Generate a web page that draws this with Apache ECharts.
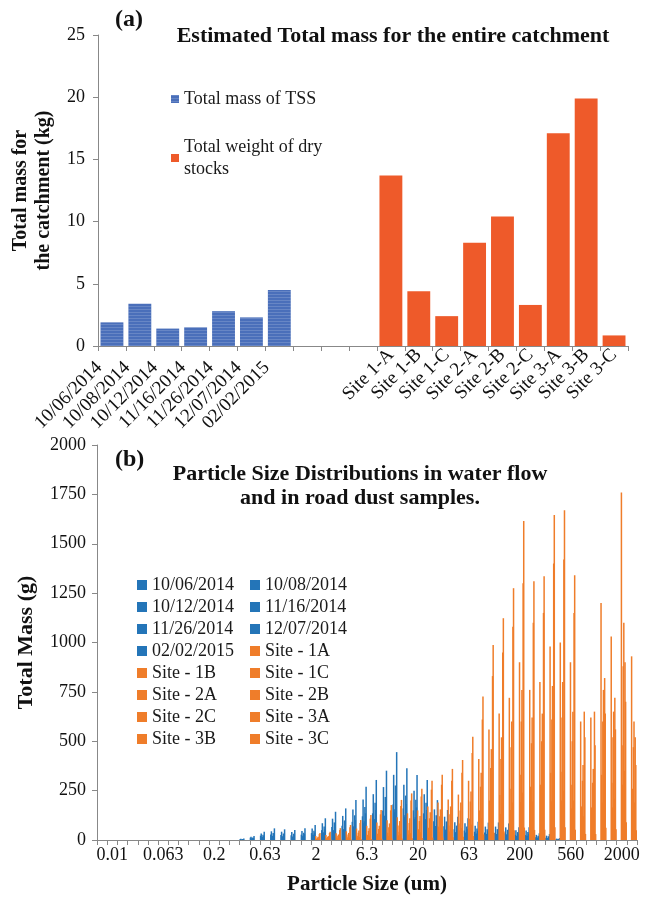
<!DOCTYPE html>
<html><head><meta charset="utf-8">
<script src="https://cdn.jsdelivr.net/npm/echarts@6/dist/echarts.min.js"></script>
<style>html,body{margin:0;padding:0;background:#fff}#c{width:660px;height:899px}</style>
</head><body><div id="c"></div>
<script>
// ---------- Panel (a) data ----------
const sampleDates = ['10/06/2014','10/08/2014','10/12/2014','11/16/2014','11/26/2014','12/07/2014','02/02/2015'];
const siteNames = ['Site 1-A','Site 1-B','Site 1-C','Site 2-A','Site 2-B','Site 2-C','Site 3-A','Site 3-B','Site 3-C'];
const tssMass = [1.9, 3.4, 1.4, 1.5, 2.8, 2.3, 4.5];
const dryStockMass = [13.7, 4.4, 2.4, 8.3, 10.4, 3.3, 17.1, 19.9, 0.85];
const massTicks = [0, 5, 10, 15, 20, 25];

// ---------- Panel (b) data ----------
const sizeCats = ['0.008','0.01','0.02','0.03','0.04','0.05','0.063','0.08','0.1','0.13','0.16','0.2','0.25','0.32','0.4','0.5','0.63','0.8','1','1.3','1.6','2','2.5','3.2','4','5','6.3','8','10','13','16','20','25','32','40','50','63','80','100','125','160','200','250','315','400','500','560','710','900','1120','1400','2000','2500'];
const sizeLabels = ['0.01','0.063','0.2','0.63','2','6.3','20','63','200','560','2000'];

const psd_10_06_2014 = [0,0,0,0,0,0,0,0,0,0,0,0,0,0, 5,12,22,28,25,24,27,35,50,66,72,92,120,135,150,180,160,150,135,95,70,55,48,42,38,36,34,26,25,14,12,4, 0,0,0,0,0,0,0];
const psd_10_08_2014 = [0,0,0,0,0,0,0,0,0,0,0,0,0,0, 6,16,33,44,42,40,45,58,85,108,122,155,205,232,268,330,280,250,232,155,118,90,85,72,68,68,64,50,48,26,22,7, 0,0,0,0,0,0,0];
const psd_10_12_2014 = [0,0,0,0,0,0,0,0,0,0,0,0,0,0, 3,8,14,18,17,16,19,25,36,46,52,66,86,98,112,140,118,106,98,66,50,38,36,30,28,29,27,20,20,11,10,3, 0,0,0,0,0,0,0];
const psd_11_16_2014 = [0,0,0,0,0,0,0,0,0,0,0,0,0,0, 3,9,15,21,19,18,21,27,39,50,56,71,95,106,123,156,127,115,106,71,53,41,39,33,31,31,29,22,22,12,10,4, 0,0,0,0,0,0,0];
const psd_11_26_2014 = [0,0,0,0,0,0,0,0,0,0,0,0,0,0, 5,13,26,36,33,32,37,47,68,89,99,125,167,188,218,276,225,204,188,125,94,73,68,58,55,55,52,40,40,21,19,6, 0,0,0,0,0,0,0];
const psd_12_07_2014 = [0,0,0,0,0,0,0,0,0,0,0,0,0,0, 4,10,21,30,27,26,30,38,55,72,80,101,135,152,176,222,182,165,152,101,76,59,55,47,44,45,42,32,32,17,15,5, 0,0,0,0,0,0,0];
const psd_02_02_2015 = [0,0,0,0,0,0,0,0,0,0,0,0,0,0, 8,20,42,59,54,51,59,76,110,143,160,202,270,304,351,445,363,329,304,202,152,118,110,93,88,89,84,64,64,34,30,10, 0,0,0,0,0,0,0];

const psd_site_1A = [0,0,0,0,0,0,0,0,0,0,0,0,0,0,0,0,0,0,0,0,0, 20,25,34,44,58,72,88,100,115,135,150,170,190,205,230,300,410,560,640,720,900,760,800,980,1000,900,600,620,1200,1030,1760,930];
const psd_site_1B = [0,0,0,0,0,0,0,0,0,0,0,0,0,0,0,0,0,0,0,0,0, 7,9,13,16,21,26,32,37,42,49,54,62,68,74,84,108,150,200,228,260,330,270,280,340,345,280,170,165,330,290,480,260];
const psd_site_1C = [0,0,0,0,0,0,0,0,0,0,0,0,0,0,0,0,0,0,0,0,0, 4,5,7,9,12,15,18,21,24,28,31,36,40,43,49,62,87,118,132,152,192,156,160,196,200,160,95,92,190,165,280,150];
const psd_site_2A = [0,0,0,0,0,0,0,0,0,0,0,0,0,0,0,0,0,0,0,0,0, 12,15,22,28,37,46,56,65,74,86,96,110,120,130,150,195,270,365,410,470,600,490,500,610,620,500,300,290,600,520,880,470];
const psd_site_2B = [0,0,0,0,0,0,0,0,0,0,0,0,0,0,0,0,0,0,0,0,0, 16,20,28,36,48,60,72,84,96,110,122,140,155,170,190,245,340,460,520,600,760,620,640,780,800,650,380,360,760,650,1100,600];
const psd_site_2C = [0,0,0,0,0,0,0,0,0,0,0,0,0,0,0,0,0,0,0,0,0, 5,6,9,12,15,19,23,27,31,35,39,45,50,54,61,78,110,147,165,190,240,195,200,245,250,200,120,115,240,210,350,190];
const psd_site_3A = [0,0,0,0,0,0,0,0,0,0,0,0,0,0,0,0,0,0,0,0,0, 30,36,50,65,86,108,130,150,172,200,220,255,280,300,340,440,610,830,950,1080,1300,1100,1150,1400,1420,1150,650,650,820,720,900,520];
const psd_site_3B = [0,0,0,0,0,0,0,0,0,0,0,0,0,0,0,0,0,0,0,0,0, 35,42,60,76,101,127,152,177,203,236,260,300,330,360,405,523,726,987,1123,1275,1615,1310,1335,1645,1670,1340,520,480,640,560,700,380];
const psd_site_3C = [0,0,0,0,0,0,0,0,0,0,0,0,0,0,0,0,0,0,0,0,0, 1,2,3,3,4,5,6,7,8,9,10,12,13,14,16,20,28,38,43,50,63,51,52,64,65,52,31,30,62,54,90,50];

const psdSeries = [
  ['10/06/2014', psd_10_06_2014, 'b'], ['10/08/2014', psd_10_08_2014, 'b'],
  ['10/12/2014', psd_10_12_2014, 'b'], ['11/16/2014', psd_11_16_2014, 'b'],
  ['11/26/2014', psd_11_26_2014, 'b'], ['12/07/2014', psd_12_07_2014, 'b'],
  ['02/02/2015', psd_02_02_2015, 'b'],
  ['Site - 1A', psd_site_1A, 'o'], ['Site - 1B', psd_site_1B, 'o'], ['Site - 1C', psd_site_1C, 'o'],
  ['Site - 2A', psd_site_2A, 'o'], ['Site - 2B', psd_site_2B, 'o'], ['Site - 2C', psd_site_2C, 'o'],
  ['Site - 3A', psd_site_3A, 'o'], ['Site - 3B', psd_site_3B, 'o'], ['Site - 3C', psd_site_3C, 'o']
];

// ---------- build ----------
const SERIF = '"Liberation Serif", "Times New Roman", serif';
const gapCats = [' ', '  ', '   '];
const massCats = sampleDates.concat(gapCats, siteNames);
const tssData = massCats.map((c, i) => i < tssMass.length ? tssMass[i] : null);
const dryData = massCats.map((c, i) => {
  const k = siteNames.indexOf(c); return k >= 0 ? dryStockMass[k] : null;
});
const BLUE_B = '#2475b8', ORANGE_B = '#ef7d2a';
const axisGrey = '#888888';

const chart = echarts.init(document.getElementById('c'), null, {renderer: 'canvas'});
const bSeries = psdSeries.map(([name, data, kind]) => ({
  type: 'bar', name, data, xAxisIndex: 1, yAxisIndex: 1,
  barWidth: 1.5, barGap: '-60%',
  itemStyle: {color: kind === 'b' ? BLUE_B : ORANGE_B}
}));

const legendText = {fontFamily: SERIF, fontSize: 18, color: '#1a1a1a'};
chart.setOption({
  animation: false,
  backgroundColor: '#fff',
  title: [
    {text: '(a)', left: 110, top: 3, textStyle: {fontFamily: SERIF, fontWeight: 'bold', fontSize: 24, color: '#111'}},
    {text: 'Estimated Total mass for the entire catchment', left: 388, top: 20, textAlign: 'center',
     textStyle: {fontFamily: SERIF, fontWeight: 'bold', fontSize: 22, color: '#111'}},
    {text: '(b)', left: 110, top: 443, textStyle: {fontFamily: SERIF, fontWeight: 'bold', fontSize: 24, color: '#111'}},
    {text: 'Particle Size Distributions in water flow\nand in road dust samples.', left: 355, top: 457, textAlign: 'center',
     textStyle: {fontFamily: SERIF, fontWeight: 'bold', fontSize: 22, lineHeight: 24, color: '#111'}}
  ],
  legend: [
    {data: ['Total mass of TSS', 'Total weight of dry stocks'], orient: 'vertical', left: 166, top: 83,
     itemWidth: 8, itemHeight: 8, itemGap: 26, icon: 'rect', textStyle: Object.assign({lineHeight: 22}, legendText),
     formatter: n => n === 'Total weight of dry stocks' ? 'Total weight of dry\nstocks' : n},
    {data: ['10/06/2014','10/12/2014','11/26/2014','02/02/2015','Site - 1B','Site - 2A','Site - 2C','Site - 3B'],
     orient: 'vertical', left: 132, top: 571, itemWidth: 10, itemHeight: 10, itemGap: 4, icon: 'rect', textStyle: legendText},
    {data: ['10/08/2014','11/16/2014','12/07/2014','Site - 1A','Site - 1C','Site - 2B','Site - 3A','Site - 3C'],
     orient: 'vertical', left: 245, top: 571, itemWidth: 10, itemHeight: 10, itemGap: 4, icon: 'rect', textStyle: legendText}
  ],
  grid: [
    {left: 98, right: 32, top: 35, height: 311},
    {left: 97, right: 23, top: 445, height: 395}
  ],
  xAxis: [
    {type: 'category', gridIndex: 0, data: massCats,
     axisLine: {lineStyle: {color: axisGrey}}, axisTick: {show: true, interval: 0, length: 5, lineStyle: {color: axisGrey}},
     axisLabel: {interval: 0, rotate: 45, fontFamily: SERIF, fontSize: 19, color: '#111', margin: 6,
       formatter: v => sampleDates.indexOf(v) >= 0 ? '{d|' + v + '}' : '{s|' + v + '}',
       rich: {d: {fontFamily: SERIF, fontSize: 19, color: '#111', padding: [0, 18, 0, 0]},
              s: {fontFamily: SERIF, fontSize: 19, color: '#111'}}}},
    {type: 'category', gridIndex: 1, data: sizeCats,
     name: 'Particle Size (um)', nameLocation: 'middle', nameGap: 34,
     nameTextStyle: {fontFamily: SERIF, fontWeight: 'bold', fontSize: 21, color: '#111'},
     axisLine: {lineStyle: {color: axisGrey}}, axisTick: {show: true, interval: 0, length: 5, lineStyle: {color: axisGrey}},
     axisLabel: {interval: (i, v) => sizeLabels.indexOf(v) >= 0, fontFamily: SERIF, fontSize: 18, color: '#111', margin: 6}}
  ],
  yAxis: [
    {type: 'value', gridIndex: 0, min: massTicks[0], max: massTicks[massTicks.length - 1], interval: 5,
     name: 'Total mass for\nthe catchment (kg)', nameLocation: 'middle', nameGap: 43, nameRotate: 90,
     nameTextStyle: {fontFamily: SERIF, fontWeight: 'bold', fontSize: 20, lineHeight: 23, color: '#111'},
     axisLine: {show: true, lineStyle: {color: axisGrey}}, axisTick: {show: true, length: 5, lineStyle: {color: axisGrey}},
     splitLine: {show: false}, axisLabel: {fontFamily: SERIF, fontSize: 18, color: '#111', margin: 13}},
    {type: 'value', gridIndex: 1, min: 0, max: 2000, interval: 250,
     name: 'Total Mass (g)', nameLocation: 'middle', nameGap: 60, nameRotate: 90,
     nameTextStyle: {fontFamily: SERIF, fontWeight: 'bold', fontSize: 22, color: '#111'},
     axisLine: {show: true, lineStyle: {color: axisGrey}}, axisTick: {show: true, length: 5, lineStyle: {color: axisGrey}},
     splitLine: {show: false}, axisLabel: {fontFamily: SERIF, fontSize: 18, color: '#111', margin: 11, formatter: v => String(v)}}
  ],
  series: [
    {type: 'bar', name: 'Total mass of TSS', data: tssData, xAxisIndex: 0, yAxisIndex: 0,
     barGap: '-100%', barCategoryGap: '18%',
     itemStyle: {color: '#4a6fba', decal: {symbol: 'rect', symbolSize: 1, dashArrayX: [[1, 0]], dashArrayY: [1, 2], color: 'rgba(255,255,255,0.16)'}}},
    {type: 'bar', name: 'Total weight of dry stocks', data: dryData, xAxisIndex: 0, yAxisIndex: 0,
     barGap: '-100%', barCategoryGap: '18%', itemStyle: {color: '#ee5a2a'}}
  ].concat(bSeries)
});
</script>
</body></html>
